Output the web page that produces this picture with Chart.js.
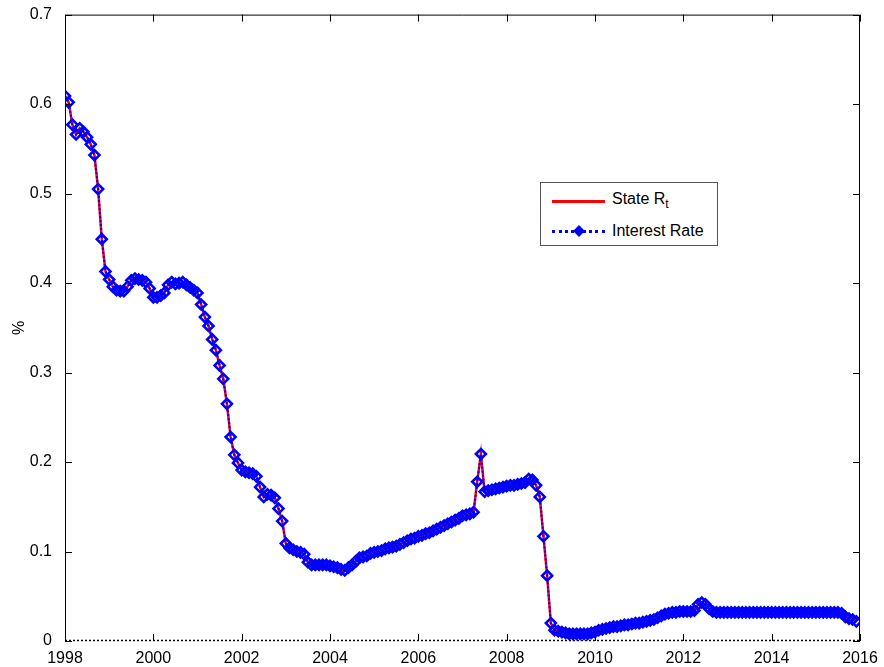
<!DOCTYPE html>
<html>
<head>
<meta charset="utf-8">
<script src="https://cdn.jsdelivr.net/npm/chart.js@4.4.1/dist/chart.umd.min.js"></script>
<style>
  html, body { margin: 0; padding: 0; background: #fff; }
  #wrap { position: relative; width: 884px; height: 667px; }
  #legend {
    position: absolute; left: 540px; top: 182px; width: 178px; height: 64px;
    border: 1px solid #555; background: #fff; box-sizing: border-box;
    font-family: "Liberation Sans", Arial, sans-serif; font-size: 16px; color: #000;
  }
  .item { position: absolute; left: 11px; height: 20px; display: flex; align-items: center; }
  .sample { position: relative; width: 53px; height: 10px; margin-right: 7px; }
  .red { position: absolute; left: 0; right: 0; top: 4px; border-top: 3px solid #f00; }
  .blue { position: absolute; left: 0; right: 0; top: 4px; border-top: 3px dotted #00f; }
  .diamond { position: absolute; left: 23px; top: 1px; width: 6px; height: 6px; transform: rotate(45deg);
    border: 1.5px solid #00f; background: #00f; }
  sub { font-size: 12px; }
</style>
</head>
<body>
<div id="wrap">
  <canvas id="lineChart" width="884" height="667"></canvas>
  <div id="legend">
    <div class="item" style="top:8px"><div class="sample"><div class="red"></div></div><span>State R<sub>t</sub></span></div>
    <div class="item" style="top:38px"><div class="sample"><div class="blue"></div><div class="diamond"></div></div><span>Interest Rate</span></div>
  </div>
</div>
<script>
const startYear = 1998;
const yearTicks = [1998, 2000, 2002, 2004, 2006, 2008, 2010, 2012, 2014, 2016];
const percentTicks = ["0", "0.1", "0.2", "0.3", "0.4", "0.5", "0.6", "0.7"];

// monthly values, one row per year (Jan..Dec)
const interestRate = [
  0.609, 0.602, 0.577, 0.566, 0.573, 0.569, 0.563, 0.555, 0.543, 0.505, 0.449, 0.413,
  0.404, 0.396, 0.392, 0.391, 0.391, 0.396, 0.403, 0.405, 0.404, 0.403, 0.401, 0.394,
  0.384, 0.384, 0.386, 0.389, 0.398, 0.401, 0.399, 0.400, 0.401, 0.398, 0.395, 0.392,
  0.389, 0.376, 0.362, 0.352, 0.337, 0.325, 0.308, 0.293, 0.265, 0.228, 0.208, 0.199,
  0.191, 0.189, 0.188, 0.187, 0.184, 0.172, 0.161, 0.164, 0.163, 0.160, 0.148, 0.134,
  0.109, 0.104, 0.102, 0.100, 0.099, 0.097, 0.088, 0.085, 0.085, 0.085, 0.085, 0.085,
  0.084, 0.083, 0.082, 0.080, 0.079, 0.082, 0.085, 0.089, 0.093, 0.094, 0.095, 0.098,
  0.099, 0.100, 0.101, 0.103, 0.104, 0.105, 0.106, 0.108, 0.110, 0.112, 0.114, 0.115,
  0.117, 0.118, 0.120, 0.121, 0.123, 0.125, 0.127, 0.129, 0.131, 0.133, 0.135, 0.137,
  0.140, 0.141, 0.142, 0.144, 0.178, 0.209, 0.167, 0.168, 0.169, 0.170, 0.171, 0.172,
  0.173, 0.174, 0.174, 0.175, 0.176, 0.177, 0.181, 0.180, 0.174, 0.161, 0.117, 0.073,
  0.020, 0.012, 0.011, 0.010, 0.009, 0.008, 0.008, 0.008, 0.008, 0.008, 0.008, 0.009,
  0.010, 0.012, 0.013, 0.014, 0.015, 0.016, 0.016, 0.017, 0.018, 0.018, 0.019, 0.020,
  0.020, 0.021, 0.022, 0.023, 0.024, 0.026, 0.028, 0.030, 0.031, 0.032, 0.032, 0.033,
  0.033, 0.033, 0.033, 0.034, 0.041, 0.043, 0.041, 0.036, 0.033, 0.032, 0.032, 0.032,
  0.032, 0.032, 0.032, 0.032, 0.032, 0.032, 0.032, 0.032, 0.032, 0.032, 0.032, 0.032,
  0.032, 0.032, 0.032, 0.032, 0.032, 0.032, 0.032, 0.032, 0.032, 0.032, 0.032, 0.032,
  0.032, 0.032, 0.032, 0.032, 0.032, 0.032, 0.032, 0.031, 0.027, 0.025, 0.024, 0.022,
];
// the filtered state lies on top of the observed rate
const stateR = interestRate;

const toPoints = (arr) => arr.map((v, i) => ({ x: startYear + i / 12, y: v }));

// matlab style box with inward ticks, dotted bottom line
const boxPlugin = {
  id: "box",
  afterDraw(chart) {
    const ctx = chart.ctx;
    const a = chart.chartArea;
    const xs = chart.scales.x;
    const ys = chart.scales.y;
    ctx.save();
    ctx.strokeStyle = "#000";
    ctx.lineWidth = 1;
    ctx.beginPath();
    ctx.moveTo(a.left + 0.5, a.bottom);
    ctx.lineTo(a.left + 0.5, a.top + 0.5);
    ctx.lineTo(a.right - 0.5, a.top + 0.5);
    ctx.lineTo(a.right - 0.5, a.bottom);
    ctx.stroke();
    ctx.setLineDash([2, 2]);
    ctx.lineWidth = 1.5;
    ctx.beginPath();
    ctx.moveTo(a.left, a.bottom - 0.5);
    ctx.lineTo(a.right, a.bottom - 0.5);
    ctx.stroke();
    ctx.setLineDash([]);
    ctx.lineWidth = 1;
    ctx.beginPath();
    yearTicks.forEach((yr) => {
      const px = Math.round(xs.getPixelForValue(yr)) + 0.5;
      ctx.moveTo(px, a.bottom);
      ctx.lineTo(px, a.bottom - 7);
      ctx.moveTo(px, a.top);
      ctx.lineTo(px, a.top + 7);
    });
    percentTicks.forEach((t) => {
      const py = Math.round(ys.getPixelForValue(parseFloat(t))) + 0.5;
      ctx.moveTo(a.left, py);
      ctx.lineTo(a.left + 7, py);
      ctx.moveTo(a.right, py);
      ctx.lineTo(a.right - 7, py);
    });
    ctx.stroke();
    ctx.restore();
  },
};

const ctx = document.getElementById("lineChart").getContext("2d");
const chart = new Chart(ctx, {
  type: "line",
  data: {
    datasets: [
      {
        label: "Interest Rate",
        data: toPoints(interestRate),
        borderColor: "#0000ff",
        borderWidth: 2,
        borderDash: [2, 2],
        pointStyle: "rectRot",
        pointRadius: 5,
        pointBorderWidth: 2.6,
        pointBorderColor: "#0000ff",
        pointBackgroundColor: "rgba(0,0,255,0)",
        tension: 0,
      },
      {
        label: "State R_t",
        data: toPoints(stateR),
        borderColor: "#ff0000",
        borderWidth: 2.5,
        pointRadius: 0,
        tension: 0,
      },
    ],
  },
  options: {
    responsive: false,
    animation: false,
    devicePixelRatio: 1,
    layout: { padding: { left: 10, top: 14, right: 24, bottom: 0 } },
    plugins: {
      legend: { display: false },
      tooltip: { enabled: false },
    },
    scales: {
      x: {
        type: "linear",
        min: 1998,
        max: 2016,
        afterBuildTicks: (s) => { s.ticks = yearTicks.map((v) => ({ value: v })); },
        afterFit: (s) => { s.height = 26; },
        grid: { display: false },
        border: { display: false },
        ticks: {
          color: "#000",
          padding: 0,
          maxRotation: 0,
          font: { family: "'Liberation Sans', Arial, sans-serif", size: 16 },
          callback: (v) => String(v),
        },
      },
      y: {
        min: 0,
        max: 0.7,
        afterBuildTicks: (s) => { s.ticks = percentTicks.map((t) => ({ value: parseFloat(t) })); },
        afterFit: (s) => { s.width = 55; },
        grid: { display: false },
        border: { display: false },
        title: {
          display: true,
          text: "%",
          color: "#000",
          padding: 0,
          font: { family: "'Liberation Sans', Arial, sans-serif", size: 16 },
        },
        ticks: {
          color: "#000",
          padding: 5,
          font: { family: "'Liberation Sans', Arial, sans-serif", size: 16 },
          callback: (v) => percentTicks.find((t) => Math.abs(parseFloat(t) - v) < 1e-9) || "",
        },
      },
    },
  },
  plugins: [boxPlugin],
});
</script>
</body>
</html>
